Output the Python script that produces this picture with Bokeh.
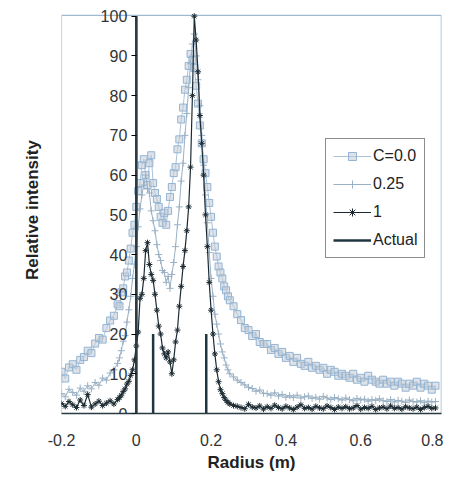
from bokeh.plotting import figure
from bokeh.models import Range1d, Legend, LegendItem, Title, FixedTicker
from bokeh.embed import file_html
from bokeh.resources import INLINE

# ---------------- data ----------------
r_left = [-0.20, -0.19, -0.18, -0.17, -0.16, -0.15, -0.14, -0.13, -0.12, -0.11,
          -0.10, -0.09, -0.08, -0.07, -0.06, -0.05]
r_mid = [-0.045, -0.040, -0.035, -0.030, -0.025, -0.020, -0.015, -0.010, -0.005, 0.000,
         0.005, 0.010, 0.015, 0.020, 0.025, 0.030, 0.035, 0.040, 0.045, 0.050,
         0.055, 0.060, 0.065, 0.070, 0.075, 0.080, 0.085, 0.090, 0.095, 0.100,
         0.105, 0.110, 0.115, 0.120, 0.125, 0.130, 0.135, 0.140, 0.145, 0.150,
         0.155, 0.160, 0.165, 0.170, 0.175, 0.180, 0.185, 0.190, 0.195, 0.200,
         0.205, 0.210, 0.215, 0.220, 0.225, 0.230, 0.235, 0.240, 0.245, 0.250]
r_right = [0.26, 0.27, 0.28, 0.29, 0.30, 0.31, 0.32, 0.33, 0.34, 0.35,
           0.36, 0.37, 0.38, 0.39, 0.40, 0.41, 0.42, 0.43, 0.44, 0.45,
           0.46, 0.47, 0.48, 0.49, 0.50, 0.51, 0.52, 0.53, 0.54, 0.55,
           0.56, 0.57, 0.58, 0.59, 0.60, 0.61, 0.62, 0.63, 0.64, 0.65,
           0.66, 0.67, 0.68, 0.69, 0.70, 0.71, 0.72, 0.73, 0.74, 0.75,
           0.76, 0.77, 0.78, 0.79, 0.80]
radius = r_left + r_mid + r_right

# C = 0.0
c00 = [10.5, 8.8, 11.6, 12.4, 11.0, 13.5, 14.2, 15.8, 15.2, 17.6, 19.0, 18.6, 21.5, 23.4, 24.6, 27.5,
       27.0, 30.5, 31.5, 34.5, 35.5, 38.5, 41.5, 45.5, 47.5, 52.0,
       56.0, 58.0, 62.5, 64.0, 60.0, 57.5, 63.0, 65.0, 58.0, 55.5,
       54.0, 52.0, 49.5, 48.0, 50.5, 47.5, 51.0, 54.5, 57.0, 60.5,
       62.0, 66.5, 69.0, 74.0, 77.0, 81.5, 84.0, 87.5, 90.5, 89.0,
       87.0, 82.5, 78.0, 72.5, 68.0, 64.0, 60.5, 57.0, 53.0, 49.5,
       45.5, 42.0, 39.5, 37.0, 35.5, 34.0, 32.0, 31.0, 29.5, 28.5,
       27.0, 25.0, 23.5, 21.5, 21.0, 19.5, 20.0, 18.0, 17.5, 17.5,
       16.0, 16.5, 15.0, 15.5, 14.0, 14.5, 13.0, 14.0, 12.5, 12.0,
       13.0, 11.5, 12.0, 11.0, 11.5, 10.0, 11.0, 10.5, 9.5, 10.0,
       9.5, 9.0, 10.0, 8.5, 9.0, 8.0, 9.5, 8.5, 8.0, 7.5,
       8.5, 7.5, 8.0, 7.0, 8.0, 7.5, 6.5, 7.5, 7.0, 8.0,
       6.5, 7.5, 7.0, 6.0, 7.0]

# C = 0.25
c025 = [5.0, 4.2, 6.1, 5.3, 4.6, 6.4, 5.6, 7.0, 6.2, 7.8, 7.1, 8.9, 8.4, 10.2, 11.0, 12.6,
        14.0, 15.8, 18.2, 19.6, 23.0, 26.1, 29.5, 34.0, 37.6, 42.0,
        47.0, 51.5, 55.0, 57.5, 60.0, 56.5, 55.5, 51.0, 48.5, 46.0,
        42.5, 40.0, 38.5, 36.0, 35.5, 33.0, 34.5, 31.5, 35.0, 38.0,
        42.0, 47.5, 52.0, 58.5, 63.0, 70.0, 75.5, 82.0, 88.0, 93.0,
        95.5, 90.0, 84.0, 77.5, 70.0, 62.5, 55.0, 48.0, 40.5, 34.0,
        29.5, 25.0, 22.5, 20.0, 17.5, 15.5, 14.0, 12.2, 11.0, 10.0,
        9.2, 8.4, 7.8, 7.2, 6.6, 6.3, 5.6, 5.9, 5.1, 5.0,
        4.6, 5.2, 4.4, 4.8, 4.1, 4.5, 4.0, 4.6, 3.9, 4.2,
        4.4, 3.8, 4.1, 3.6, 4.3, 3.9, 3.5, 4.0, 3.7, 3.4,
        3.9, 3.5, 3.2, 3.8, 3.4, 3.6, 3.1, 3.5, 3.3, 3.7,
        3.2, 3.0, 3.5, 2.9, 3.3, 3.1, 2.8, 3.4, 3.0, 2.9,
        3.2, 2.7, 3.1, 2.9, 3.0]

# C = 1
c1 = [2.5, 1.8, 3.0, 2.2, 1.5, 3.4, 2.0, 4.8, 1.6, 2.4, 3.1, 2.0, 2.6, 3.2, 2.4, 3.5,
      4.0, 4.6, 5.5, 6.2, 7.4, 8.1, 9.6, 11.0, 13.5, 17.0,
      20.5, 29.0, 30.0, 34.0, 41.0, 43.0, 37.5, 35.0, 33.5, 30.0,
      26.0, 22.0, 20.0, 16.5, 15.0, 14.0, 15.5, 13.0, 10.0, 13.5,
      18.0, 21.0, 27.0, 32.0, 37.0, 41.0, 46.0, 52.0, 62.0, 80.0,
      100.0, 94.0, 86.0, 75.0, 68.0, 60.0, 50.0, 42.0, 33.0, 26.0,
      20.0, 15.0, 11.0, 8.0, 6.0, 5.0, 4.0, 3.3, 2.8, 2.4,
      2.0, 1.8, 1.5, 1.2, 2.3, 1.6, 1.4, 1.9, 1.1, 1.7,
      1.3, 2.1, 1.5, 1.2, 1.8, 1.4, 1.0, 1.6, 2.2, 1.3,
      1.5, 1.1, 1.8, 1.4, 1.2, 1.9, 1.5, 1.0, 1.6, 1.3,
      1.7, 1.2, 1.4, 2.0, 1.1, 1.5, 1.3, 1.8, 1.0, 1.4,
      1.6, 1.2, 1.9, 1.3, 1.5, 1.1, 1.7, 1.4, 1.2, 1.6,
      1.0, 1.5, 1.8, 1.3, 1.4]

# Actual distribution (spikes)
actual_r = [0.0, 0.045, 0.187]
actual_h = [100.0, 20.0, 20.0]
actual_base = [0.0, 0.0, 0.0]

x_ticks = [-0.2, 0.0, 0.2, 0.4, 0.6, 0.8]
x_tick_labels = ["-0.2", "0", "0.2", "0.4", "0.6", "0.8"]
y_ticks = [0, 10, 20, 30, 40, 50, 60, 70, 80, 90, 100]

FONT = "Liberation Sans"
X0, X1, Y0, Y1 = -0.2, 0.8155, 0.0, 100.2

# ---------------- figure ----------------
p = figure(width=443, height=474,
           x_range=Range1d(X0, 0.816), y_range=Range1d(Y0, 102.44),
           output_backend="svg", toolbar_location=None,
           min_border_left=61, min_border_right=2, min_border_top=6, min_border_bottom=10)
p.background_fill_color = "white"
p.border_fill_color = "white"
p.outline_line_color = None
p.xgrid.visible = False
p.ygrid.visible = False

# plot-area border (Excel style light-blue rectangle)
p.quad(left=[X0], right=[X1], bottom=[Y0], top=[Y1],
       fill_color=None, line_color="#9fbad0", line_width=1.2)

# series
l0 = p.line(radius, c00, line_color="#a9c1d9", line_width=1)
s0 = p.scatter(radius, c00, marker="square", size=7, line_color="#93b4d4",
               fill_color="#c4ccd6", fill_alpha=0.55, line_width=1)
l25 = p.line(radius, c025, line_color="#9ab0c4", line_width=1)
s25 = p.scatter(radius, c025, marker="cross", size=7, line_color="#9ab0c4", line_width=1)
l1 = p.line(radius, c1, line_color="#1c2b33", line_width=1.2)
s1 = p.scatter(radius, c1, marker="asterisk", size=6, line_color="#1c2b33", line_width=1)
act = p.segment(x0=actual_r, y0=actual_base, x1=actual_r, y1=actual_h,
                line_color="#1f3640", line_width=2.5)

# x axis
xa = p.xaxis[0]
xa.ticker = FixedTicker(ticks=x_ticks)
xa.major_label_overrides = {t: s for t, s in zip(x_ticks, x_tick_labels)}
xa.axis_label = "Radius (m)"
xa.axis_label_text_font = FONT
xa.axis_label_text_font_size = "17px"
xa.axis_label_text_font_style = "bold"
xa.axis_label_text_color = "#222222"
xa.axis_label_standoff = 4
xa.major_label_text_font = FONT
xa.major_label_text_font_size = "16px"
xa.major_label_text_color = "#333333"
xa.major_label_standoff = 20
xa.axis_line_color = "#2b3b42"
xa.axis_line_width = 1.5
xa.major_tick_out = 0
xa.major_tick_in = 0
xa.minor_tick_out = 0
xa.minor_tick_in = 0

# y axis crossing at x = 0
ya = p.yaxis[0]
ya.fixed_location = 0
ya.bounds = (0, 100)
ya.ticker = FixedTicker(ticks=y_ticks)
ya.major_label_text_font = FONT
ya.major_label_text_font_size = "16px"
ya.major_label_text_color = "#333333"
ya.major_label_standoff = 4
ya.axis_line_color = "#2b3b42"
ya.axis_line_width = 1.5
ya.major_tick_out = 5
ya.major_tick_in = 0
ya.minor_tick_out = 0
ya.minor_tick_in = 0

p.add_layout(Title(text="Relative intensity", align="center", text_font=FONT,
                   text_font_size="17px", text_font_style="bold",
                   text_color="#222222", standoff=40), "left")

legend = Legend(items=[
    LegendItem(label="C=0.0", renderers=[l0, s0]),
    LegendItem(label="0.25", renderers=[l25, s25]),
    LegendItem(label="1", renderers=[l1, s1]),
    LegendItem(label="Actual", renderers=[act]),
], location=(264, 155), margin=0, padding=7, spacing=8,
    glyph_width=38, glyph_height=20, label_height=20, label_standoff=2,
    label_text_font=FONT, label_text_font_size="16px", label_text_color="#222222",
    border_line_color="#1a1a1a", border_line_width=1.5,
    background_fill_color="white", background_fill_alpha=1.0)
p.add_layout(legend)

open("out.html", "w").write(file_html(p, INLINE))
